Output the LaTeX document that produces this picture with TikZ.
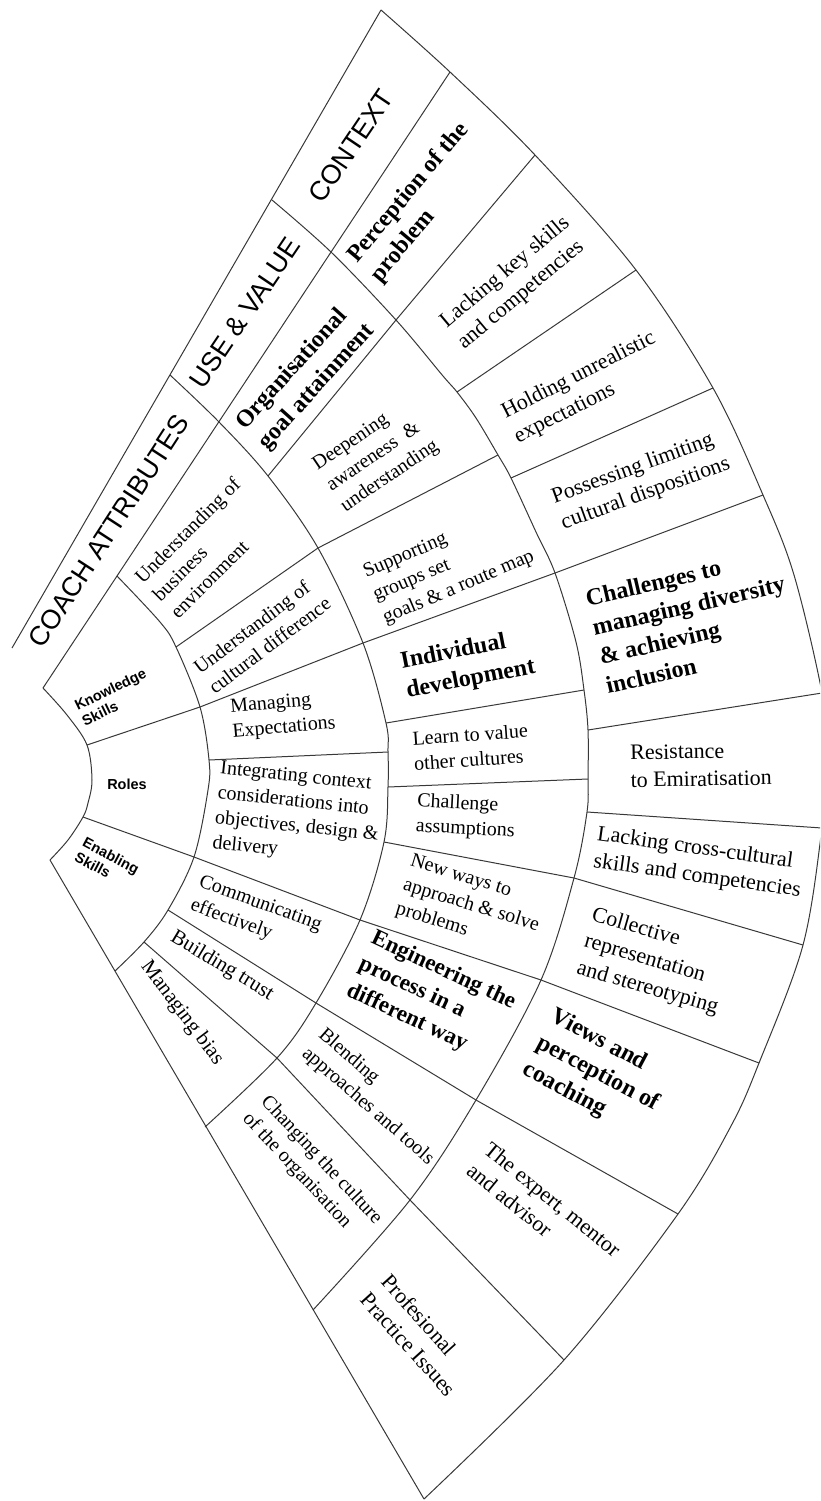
\documentclass[tikz,border=0pt]{standalone}
\usepackage{fontspec}
\setmainfont{Liberation Serif}
\setsansfont{Liberation Sans}
\begin{document}
\begin{tikzpicture}[x=1pt,y=-1pt,
  ln/.style={line width=1pt, draw=black!78},
  ringline/.style={ln, smooth, tension=0.55},
  hdr/.style={font=\sffamily\fontsize{27}{32}\selectfont, inner sep=0pt},
  lbl/.style={font=\sffamily\bfseries\fontsize{14.5}{17}\selectfont, align=left, inner sep=0pt},
  t22/.style={font=\fontsize{22}{27.5}\selectfont, align=left, inner sep=0pt},
  t21/.style={font=\fontsize{21}{26}\selectfont, align=left, inner sep=0pt},
  t20/.style={font=\fontsize{20}{25}\selectfont, align=left, inner sep=0pt},
  b24/.style={font=\bfseries\fontsize{24}{30}\selectfont, align=left, inner sep=0pt},
  b23/.style={font=\bfseries\fontsize{23}{29}\selectfont, align=left, inner sep=0pt}]

\useasboundingbox (0,0) rectangle (820,1501);
\clip (0,0) rectangle (820,1501);

% ---- outer straight edges -------------------------------------------
\coordinate (T0) at (12,648);  \coordinate (T2) at (170,375);
\coordinate (T3) at (272,200); \coordinate (T4) at (381,10);
% inner edge of the heading band
\coordinate (B0) at (43,688);  \coordinate (B1) at (117,576);
\coordinate (B2) at (219,422); \coordinate (B3) at (331,252);
\coordinate (B4) at (450,72);
% lower edge
\coordinate (E0) at (50,860);  \coordinate (E1) at (115,971);
\coordinate (E2) at (205,1127); \coordinate (E3) at (313,1310);
\coordinate (E4) at (424,1499);

% ---- hub ---------------------------------------------------------------
\coordinate (Ha) at (87,745); \coordinate (Hb) at (83,817);
% ---- ring 1 / ring 2 boundary -----------------------------------------
\coordinate (R1a) at (176,647); \coordinate (R1b) at (200,707);
\coordinate (R1c) at (209,760); \coordinate (R1d) at (194,857);
\coordinate (R1e) at (168,910); \coordinate (R1f) at (144,942);
% ---- ring 2 / ring 3 boundary -----------------------------------------
\coordinate (R2a) at (268,476); \coordinate (R2b) at (318,548);
\coordinate (R2c) at (363,643); \coordinate (R2d) at (386,723);
\coordinate (R2e) at (388,752); \coordinate (R2f) at (388,787);
\coordinate (R2g) at (384,842); \coordinate (R2h) at (360,920);
\coordinate (R2i) at (316,1003); \coordinate (R2j) at (277,1058);
% ---- ring 3 / ring 4 boundary -----------------------------------------
\coordinate (R3a) at (396,320); \coordinate (R3b) at (457,392);
\coordinate (R3c) at (498,455); \coordinate (R3d) at (511,478);
\coordinate (R3e) at (555,573); \coordinate (R3f) at (584,690);
\coordinate (R3g) at (588,730); \coordinate (R3h) at (588,779);
\coordinate (R3i) at (587,812); \coordinate (R3j) at (574,878);
\coordinate (R3k) at (541,980); \coordinate (R3l) at (476,1100);
\coordinate (R3m) at (410,1200);
% ---- outer rim --------------------------------------------------------
\coordinate (R4a) at (535,155); \coordinate (R4b) at (636,270);
\coordinate (R4c) at (713,388); \coordinate (R4d) at (763,495);
\coordinate (R4e) at (822,693); \coordinate (R4f) at (822,828);
\coordinate (R4g) at (803,945); \coordinate (R4h) at (759,1063);
\coordinate (R4i) at (678,1214); \coordinate (R4j) at (564,1360);

% ---- straight edges ----------------------------------------------------
\draw[ln] (T0) -- (T4);
\draw[ln] (B0) -- (B4);
\draw[ln] (E0) -- (E4);

% ---- rings ---------------------------------------------------------------
\draw[ringline] plot coordinates {(B0) (67,715) (Ha) (92,780) (88,803) (Hb) (68,840) (E0)};
\draw[ringline] plot coordinates {(B1) (160,622) (R1a) (R1b) (R1c) (208,790) (R1d) (R1e) (R1f) (E1)};
\draw[ringline] plot coordinates {(T2) (B2) (R2a) (R2b) (R2c) (R2d) (R2e) (R2f) (R2g) (R2h) (R2i) (R2j) (E2)};
\draw[ringline] plot coordinates {(T3) (B3) (R3a) (443,376) (R3b) (476,418) (R3c) (R3d) (536,532) (R3e) (576,642) (R3f) (R3g) (R3h) (R3i) (R3j) (R3k) (R3l) (R3m) (E3)};
\draw[ringline] plot coordinates {(T4) (B4) (R4a) (R4b) (R4c) (R4d) (794,575) (R4e) (828,760) (R4f) (R4g) (R4h) (731,1126) (R4i) (R4j) (E4)};

% ---- dividers, ring 1 -----------------------------------------------------
\draw[ln] (Ha) -- (R1b);
\draw[ln] (Hb) -- (R1d);
% ---- dividers, ring 2 -----------------------------------------------------
\draw[ln] (R1a) -- (R2b);
\draw[ln] (R1b) -- (R2c);
\draw[ln] (R1c) -- (R2e);
\draw[ln] (R1d) -- (R2h);
\draw[ln] (R1e) -- (R2i);
\draw[ln] (R1f) -- (R2j);
% ---- dividers, ring 3 -----------------------------------------------------
\draw[ln] (R2a) -- (R3a);
\draw[ln] (R2b) -- (R3c);
\draw[ln] (R2c) -- (R3e);
\draw[ln] (R2d) -- (R3f);
\draw[ln] (R2f) -- (R3h);
\draw[ln] (R2g) -- (R3j);
\draw[ln] (R2h) -- (R3k);
\draw[ln] (R2i) -- (R3l);
\draw[ln] (R2j) -- (R3m);
% ---- dividers, ring 4 -----------------------------------------------------
\draw[ln] (R3a) -- (R4a);
\draw[ln] (R3b) -- (R4b);
\draw[ln] (R3d) -- (R4c);
\draw[ln] (R3e) -- (R4d);
\draw[ln] (R3g) -- (R4e);
\draw[ln] (R3i) -- (R4f);
\draw[ln] (R3j) -- (R4g);
\draw[ln] (R3k) -- (R4h);
\draw[ln] (R3l) -- (R4i);
\draw[ln] (R3m) -- (R4j);

% ---- heading band ---------------------------------------------------------
\node[hdr, rotate=57] (coach) at (109,531) {COACH ATTRIBUTES};
\node[hdr, rotate=56] (usev) at (245,313) {USE \& VALUE};
\node[hdr, rotate=56] (ctx) at (351,146) {CONTEXT};

% ---- ring 1 ---------------------------------------------------------------
\node[lbl, rotate=26] (know) at (114,697) {Knowledge\\Skills};
\node[lbl] (roles) at (127,784) {Roles};
\node[lbl, rotate=-28] (enab) at (107,863) {Enabling\\Skills};

% ---- ring 2 ---------------------------------------------------------------
\node[t20, rotate=45] (ube) at (205,548) {Understanding of\\business\\environment};
\node[t20, rotate=37] (ucd) at (262,635) {Understanding of\\cultural difference};
\node[t20, rotate=5] (manexp) at (283,716) {Managing\\Expectations};
\node[t20, rotate=-6] (integ) at (298,815) {Integrating context\\considerations into\\objectives, design \&\\delivery};
\node[t20, rotate=-20] (comm) at (256,916) {Communicating\\effectively};
\node[t21, rotate=-31] (trust) at (222,966) {Building trust};
\node[t21, rotate=-53] (bias) at (182,1013) {Managing bias};

% ---- ring 3 ---------------------------------------------------------------
\node[b24, rotate=48] (org) at (306,377) {Organisational\\goal attainment};
\node[t20, rotate=34] (deep) at (376,456) {Deepening\\awareness\ \ \&\\understanding};
\node[t20, rotate=23] (supp) at (449,565) {Supporting\\groups set\\goals \& a route map};
\node[b24, rotate=11] (indiv) at (468,665) {Individual\\development};
\node[t20, rotate=4] (learn) at (471,747) {Learn to value\\other cultures};
\node[t20, rotate=-3] (chass) at (466,817) {Challenge\\assumptions};
\node[t20, rotate=-17] (neww) at (471,906) {New ways to\\approach \& solve\\problems};
\node[b23, rotate=-25] (eng) at (431,997) {Engineering the\\process in a\\different way};
\node[t20, rotate=-41] (blend) at (376,1097) {Blending\\approaches and tools};
\node[t20, rotate=-47] (chg) at (312,1169) {Changing the culture\\of the organisation};

% ---- ring 4 ---------------------------------------------------------------
\node[b24, rotate=50] (perc) at (420,203) {Perception of the\\problem};
\node[t22, rotate=40] (lack) at (514,283) {Lacking key skills\\and competencies};
\node[t22, rotate=27] (hold) at (585,388) {Holding unrealistic\\expectations};
\node[t22, rotate=20] (poss) at (641,481) {Possessing limiting\\cultural dispositions};
\node[b24, rotate=13] (chl) at (692,620) {Challenges to\\managing diversity\\\& achieving\\inclusion};
\node[t22, rotate=1] (resist) at (701,765) {Resistance\\to Emiratisation};
\node[t22, rotate=-8] (lackx) at (699,863) {Lacking cross-cultural\\skills and competencies};
\node[t22, rotate=-16] (coll) at (655,962) {Collective\\representation\\and stereotyping};
\node[b24, rotate=-28] (views) at (598,1074) {Views and\\perception of\\coaching};
\node[t22, rotate=-39] (expert) at (544,1210) {The expert, mentor\\and advisor};
\node[t22, rotate=-48] (prof) at (419,1335) {Profesional\\Practice Issues};

\end{tikzpicture}
\end{document}
